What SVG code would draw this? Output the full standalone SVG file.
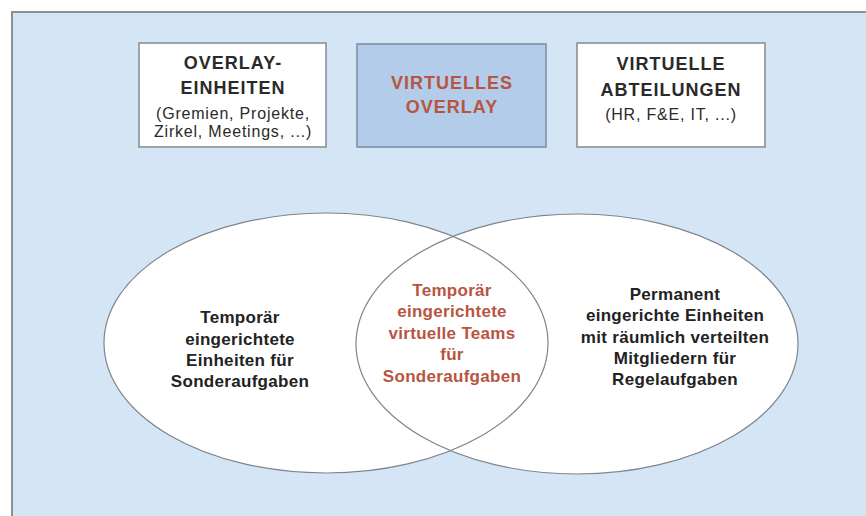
<svg xmlns="http://www.w3.org/2000/svg" width="866" height="516" viewBox="0 0 866 516">
  <style>
    .panel { fill: #d4e6f6; stroke: #8b9097; stroke-width: 2; }
    .box { fill: #ffffff; stroke: #8a9097; stroke-width: 1.6; }
    .box-accent { fill: #b2cce9; stroke: #7f90a8; stroke-width: 1.6; }
    .set-fill { fill: #ffffff; stroke: none; }
    .set-line { fill: none; stroke: #80848b; stroke-width: 1.2; }
    text { font-family: "Liberation Sans", Arial, sans-serif; text-anchor: middle; }
    .title { font-size: 18px; font-weight: bold; letter-spacing: 1px; fill: #2a2a2a; }
    .title-red { font-size: 18px; font-weight: bold; letter-spacing: 1px; fill: #b8553f; }
    .sub { font-size: 16px; letter-spacing: 0.8px; fill: #2a2a2a; }
    .label { font-size: 17px; font-weight: bold; letter-spacing: 0.3px; fill: #222222; }
    .label-red { font-size: 17px; font-weight: bold; letter-spacing: 0.3px; fill: #b8553f; }
  </style>

  <rect width="866" height="516" fill="#ffffff"/>
  <rect class="panel" x="12" y="12" width="870" height="520"/>

  <!-- top row of units -->
  <g id="overlay-einheiten">
    <rect class="box" x="139" y="43" width="187" height="104"/>
    <text class="title" x="233" y="69">OVERLAY-</text>
    <text class="title" x="233" y="94">EINHEITEN</text>
    <text class="sub" x="233" y="119">(Gremien, Projekte,</text>
    <text class="sub" x="233" y="137">Zirkel, Meetings, ...)</text>
  </g>

  <g id="virtuelles-overlay">
    <rect class="box-accent" x="357" y="44" width="189" height="103"/>
    <text class="title-red" x="452" y="89">VIRTUELLES</text>
    <text class="title-red" x="452" y="113">OVERLAY</text>
  </g>

  <g id="virtuelle-abteilungen">
    <rect class="box" x="577" y="43" width="188" height="104"/>
    <text class="title" x="671" y="70">VIRTUELLE</text>
    <text class="title" x="671" y="96">ABTEILUNGEN</text>
    <text class="sub" x="671" y="120">(HR, F&amp;E, IT, ...)</text>
  </g>

  <!-- overlapping sets: fills first, then both outlines -->
  <g id="sets">
    <ellipse class="set-fill" cx="326" cy="343" rx="222" ry="130"/>
    <ellipse class="set-fill" cx="577" cy="344" rx="221" ry="130"/>
    <ellipse class="set-line" cx="326" cy="343" rx="222" ry="130"/>
    <ellipse class="set-line" cx="577" cy="344" rx="221" ry="130"/>
  </g>

  <g id="temporaere-einheiten">
    <text class="label" x="240" y="323">Temporär</text>
    <text class="label" x="240" y="345">eingerichtete</text>
    <text class="label" x="240" y="366">Einheiten für</text>
    <text class="label" x="240" y="387">Sonderaufgaben</text>
  </g>

  <g id="virtuelle-teams">
    <text class="label-red" x="452" y="296">Temporär</text>
    <text class="label-red" x="452" y="317">eingerichtete</text>
    <text class="label-red" x="452" y="339">virtuelle Teams</text>
    <text class="label-red" x="452" y="360">für</text>
    <text class="label-red" x="452" y="382">Sonderaufgaben</text>
  </g>

  <g id="permanente-einheiten">
    <text class="label" x="675" y="300">Permanent</text>
    <text class="label" x="675" y="321">eingerichte Einheiten</text>
    <text class="label" x="675" y="343">mit räumlich verteilten</text>
    <text class="label" x="675" y="364">Mitgliedern für</text>
    <text class="label" x="675" y="385">Regelaufgaben</text>
  </g>
</svg>
